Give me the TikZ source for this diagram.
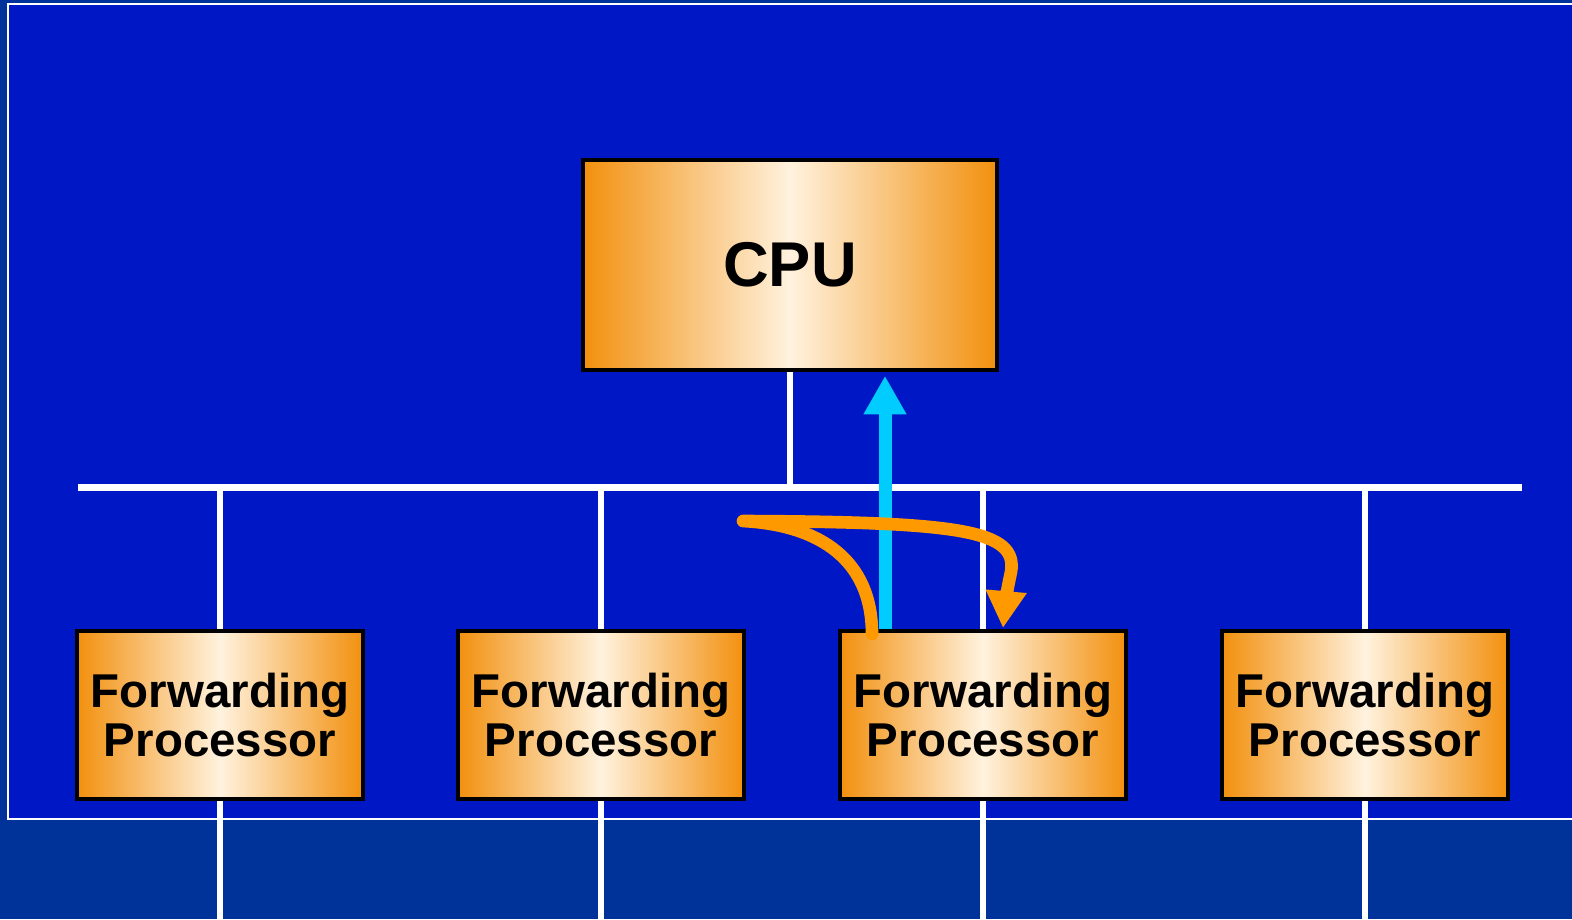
\documentclass[tikz,border=0pt]{standalone}
\usepackage{fontspec}
\setmainfont{Liberation Sans}
\usetikzlibrary{arrows.meta,backgrounds}
\definecolor{slide}{HTML}{003399}
\definecolor{panel}{HTML}{0017C6}
\definecolor{amber}{HTML}{F2900E}
\definecolor{cream}{HTML}{FFF2DE}
\definecolor{sky}{HTML}{00CCFF}
\definecolor{tangerine}{HTML}{FF9900}
\tikzset{
  unit/.style={left color=amber,right color=amber,middle color=cream,draw=black,line width=0.9pt,align=center,inner sep=2pt},
  cpubox/.style={unit,minimum width=41.4mm,minimum height=21mm,font=\bfseries\fontsize{18}{20}\selectfont},
  fwdbox/.style={unit,minimum width=28.6mm,minimum height=16.8mm,font=\bfseries\fontsize{13.5}{14.2}\selectfont},
  bus/.style={draw=white,line width=2pt},
  tap/.style={draw=white,line width=1.5pt},
  toCPU/.style={-{Triangle[length=11pt,width=11.5pt]},draw=sky,line width=3.7pt},
  hop/.style={-{Triangle[length=10.5pt,width=11pt]},draw=tangerine,line width=3.6pt,line cap=round,line join=round},
}

\begin{document}
\begin{tikzpicture}[x=0.1mm,y=-0.1mm]
\useasboundingbox (0,0) rectangle (1572,919);
\clip (0,0) rectangle (1572,919);

\node[cpubox] (cpu) at (790,265) {CPU};
\foreach \x [count=\i] in {220,601,983,1365}
  \node[fwdbox] (fp\i) at (\x,715) {Forwarding\\Processor};

\coordinate (busL) at (78,487);
\coordinate (busR) at (1522,487);
\coordinate (floor) at (0,919);
\coordinate (lift) at (885,0);
\coordinate (rise) at (872,634);
\coordinate (bend) at (743,521);
\coordinate (kink) at (1011,572);
\coordinate (land) at (1003,628);

\begin{scope}[on background layer]
\fill[slide] (0,0) rectangle (1572,919);
\filldraw[fill=panel,draw=white,line width=0.6pt] (8,4) rectangle (1590,819);
\draw[bus] (busL) -- (busR);
\draw[tap] (cpu.south) -- (cpu.south |- busL);
\foreach \i in {1,...,4}
  \draw[tap] (fp\i.center |- busL) -- (fp\i.center |- floor);
\end{scope}

% packet up to the CPU, and one passed across
\draw[toCPU] (fp3.north -| lift) -- ([yshift=-1.2pt]cpu.south -| lift);
\draw[hop] (rise) .. controls (872,560) and (820,525) .. (bend)
  .. controls (960,522) and (1018,530) .. (kink)
  .. controls (1007,590) and (1005,605) .. (land);

\end{tikzpicture}
\end{document}
